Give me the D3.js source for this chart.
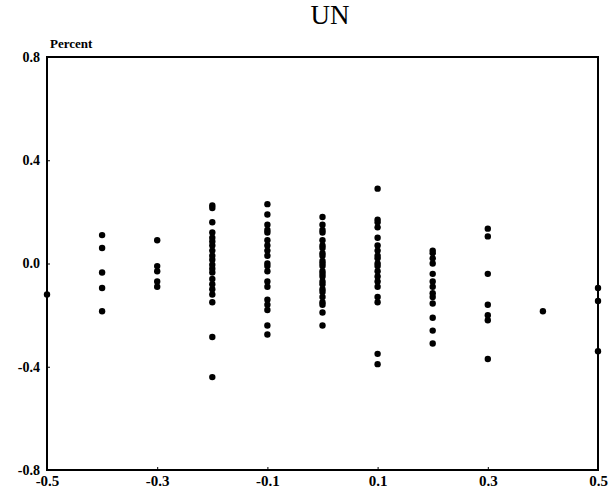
<!DOCTYPE html>
<html>
<head>
<meta charset="utf-8">
<script src="https://cdn.jsdelivr.net/npm/d3@7"></script>
<style>
  body { margin: 0; background: #fff; }
  text { font-family: "Liberation Serif", "DejaVu Serif", serif; }
</style>
</head>
<body>
<div id="chart"></div>
<script>
// x positions (columns) and the percent values read at each one
var xCats = [-0.5, -0.4, -0.3, -0.2, -0.1, 0.0, 0.1, 0.2, 0.3, 0.4, 0.5];
var colM05 = [-0.12];
var colM04 = [0.11, 0.06, -0.035, -0.095, -0.185];
var colM03 = [0.09, -0.01, -0.03, -0.07, -0.09];
var colM02 = [0.225, 0.215, 0.16, 0.12, 0.10, 0.085, 0.07, 0.05, 0.03, 0.015, -0.005, -0.02, -0.035, -0.06, -0.08, -0.10, -0.12, -0.15, -0.285, -0.44];
var colM01 = [0.23, 0.19, 0.15, 0.13, 0.12, 0.09, 0.07, 0.05, 0.03, 0.0, -0.01, -0.03, -0.07, -0.09, -0.14, -0.16, -0.18, -0.24, -0.275];
var col00 = [0.18, 0.15, 0.13, 0.12, 0.09, 0.07, 0.06, 0.04, 0.03, 0.01, 0.0, -0.01, -0.03, -0.04, -0.05, -0.07, -0.08, -0.10, -0.11, -0.13, -0.15, -0.16, -0.19, -0.24];
var colP01 = [0.29, 0.17, 0.16, 0.14, 0.10, 0.07, 0.05, 0.03, 0.02, 0.0, -0.01, -0.03, -0.05, -0.07, -0.09, -0.13, -0.15, -0.35, -0.39];
var colP02 = [0.05, 0.04, 0.02, 0.0, -0.04, -0.07, -0.09, -0.115, -0.13, -0.155, -0.21, -0.26, -0.31];
var colP03 = [0.135, 0.105, -0.04, -0.16, -0.20, -0.22, -0.37];
var colP04 = [-0.185];
var colP05 = [-0.095, -0.145, -0.34];
var columns = [colM05, colM04, colM03, colM02, colM01, col00, colP01, colP02, colP03, colP04, colP05];

var xTicks = [-0.5, -0.3, -0.1, 0.1, 0.3, 0.5];
var yTicks = [0.8, 0.4, 0.0, -0.4, -0.8];

// flatten into points
var points = [];
columns.forEach(function(col, i){
    col.forEach(function(v){ points.push({x: xCats[i], y: v}); });
});

var width = 615, height = 496;
var margin = {left: 47, right: 17, top: 57, bottom: 26};

var svg = d3.select("#chart").append("svg")
    .attr("width", width).attr("height", height);

var x = d3.scaleLinear().domain([-0.5, 0.5]).range([margin.left, width - margin.right]);
var y = d3.scaleLinear().domain([-0.8, 0.8]).range([height - margin.bottom, margin.top]);

// frame
svg.append("rect")
    .attr("x", x(-0.5)).attr("y", y(0.8))
    .attr("width", x(0.5) - x(-0.5)).attr("height", y(-0.8) - y(0.8))
    .attr("fill", "none").attr("stroke", "#000").attr("stroke-width", 2);

function fmt(d){ return d3.format(".1f")(d).replace("−", "-"); }

// axes (labels only, tiny ticks)
var xAxis = d3.axisBottom(x).tickValues(xTicks).tickSize(-3).tickPadding(5).tickFormat(fmt);
var gx = svg.append("g").attr("transform", "translate(0," + y(-0.8) + ")").call(xAxis);
gx.select(".domain").remove();
gx.selectAll("text").attr("font-size", 15).attr("font-weight", "bold")
    .attr("font-family", "Liberation Serif").attr("fill", "#000");

var yAxis = d3.axisLeft(y).tickValues(yTicks).tickSize(-3).tickPadding(7).tickFormat(fmt);
var gy = svg.append("g").attr("transform", "translate(" + x(-0.5) + ",0)").call(yAxis);
gy.select(".domain").remove();
gy.selectAll("text").attr("font-size", 14).attr("font-weight", "bold")
    .attr("font-family", "Liberation Serif").attr("fill", "#000");

// dots
svg.append("g").selectAll("circle")
    .data(points)
    .enter().append("circle")
    .attr("cx", function(d){ return x(d.x); })
    .attr("cy", function(d){ return y(d.y); })
    .attr("r", 3.2)
    .attr("fill", "#000");

// title and unit label
svg.append("text")
    .attr("x", 330).attr("y", 24)
    .attr("text-anchor", "middle")
    .attr("font-size", 27)
    .text("UN");

svg.append("text")
    .attr("x", 50).attr("y", 48)
    .attr("font-size", 13).attr("font-weight", "bold")
    .text("Percent");
</script>
</body>
</html>
